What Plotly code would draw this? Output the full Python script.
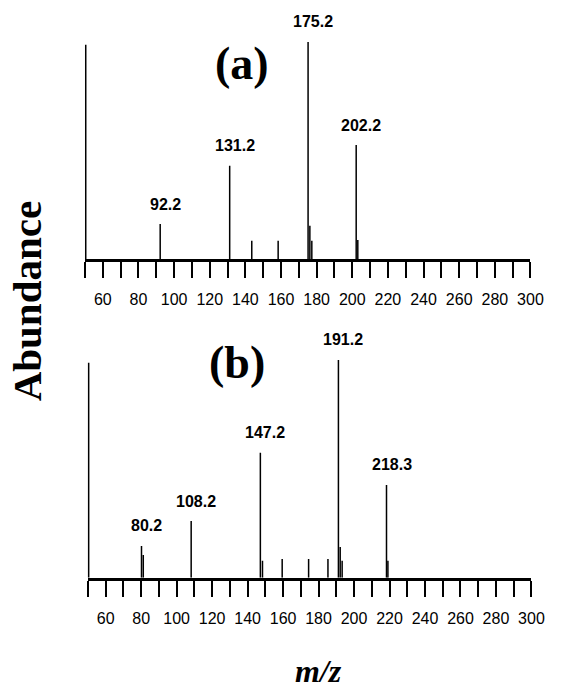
import plotly.graph_objects as go

# ---- data ----
mz_a = [92.2, 131.2, 143.6, 158.4, 175.2, 176.2, 177.3, 202.2, 203.1]
ab_a = [16.1, 43.0, 8.4, 8.4, 100.0, 15.3, 8.4, 52.5, 8.8]
lab_mz_a = [92.2, 131.2, 175.2, 202.2]
lab_txt_a = ["92.2", "131.2", "175.2", "202.2"]

mz_b = [80.2, 81.2, 108.2, 147.2, 148.4, 159.5, 174.4, 185.3, 191.2, 192.2, 193.3, 218.3, 219.1]
ab_b = [14.6, 10.4, 26.0, 57.4, 7.8, 8.6, 8.6, 8.6, 100.0, 14.1, 7.8, 42.6, 7.8]
lab_mz_b = [80.2, 108.2, 147.2, 191.2, 218.3]
lab_txt_b = ["80.2", "108.2", "147.2", "191.2", "218.3"]

tick_vals = list(range(50, 301, 10))
tick_labels = ["", "60", "", "80", "", "100", "", "120", "", "140", "", "160", "", "180", "",
               "200", "", "220", "", "240", "", "260", "", "280", "", "300"]
x_range = [50, 300]
y_range = [0, 105]
yaxis_top = 98.7

SANS = "Liberation Sans, Arial, sans-serif"
SERIF = "Liberation Serif, Times New Roman, serif"


def sticks(mz, ab):
    xs, ys = [], []
    for m, a in zip(mz, ab):
        xs += [m, m, None]
        ys += [0, a, None]
    return xs, ys


fig = go.Figure()
xa, ya = sticks(mz_a, ab_a)
xb, yb = sticks(mz_b, ab_b)
fig.add_trace(go.Scatter(x=xa, y=ya, mode="lines", line=dict(color="black", width=1.5),
                         xaxis="x", yaxis="y", showlegend=False, hoverinfo="skip"))
fig.add_trace(go.Scatter(x=xb, y=yb, mode="lines", line=dict(color="black", width=1.5),
                         xaxis="x2", yaxis="y2", showlegend=False, hoverinfo="skip"))

xcommon = dict(range=x_range, tickmode="array", tickvals=tick_vals, ticktext=tick_labels,
               ticks="outside", ticklen=16, tickwidth=1.5, tickcolor="black",
               showline=True, linewidth=3, linecolor="black", showgrid=False,
               zeroline=False, tickfont=dict(family=SANS, size=16, color="black"),
               ticklabelstandoff=8)
ycommon = dict(range=y_range, visible=False, showgrid=False, zeroline=False)

fig.update_layout(
    width=563, height=691, margin=dict(l=0, r=0, t=0, b=0),
    plot_bgcolor="white", paper_bgcolor="white",
    xaxis=dict(domain=[87 / 563, 543 / 563], anchor="y", **xcommon),
    yaxis=dict(domain=[1 - 259 / 691, 1 - 31.1 / 691], anchor="x", **ycommon),
    xaxis2=dict(domain=[90 / 563, 544 / 563], anchor="y2", **xcommon),
    yaxis2=dict(domain=[1 - 577.7 / 691, 1 - 349.1 / 691], anchor="x2", **ycommon),
)

# y-axis lines (vertical bars at left)
fig.add_shape(type="line", xref="x", yref="y", x0=x_range[0], x1=x_range[0], y0=0, y1=yaxis_top,
              line=dict(color="black", width=3))
fig.add_shape(type="line", xref="x2", yref="y2", x0=x_range[0], x1=x_range[0], y0=0, y1=yaxis_top,
              line=dict(color="black", width=3))

ann = []
for m, t in zip(lab_mz_a, lab_txt_a):
    ann.append(dict(x=m, y=ab_a[mz_a.index(m)], xref="x", yref="y", text=f"<b>{t}</b>",
                    showarrow=False, xshift=5, yshift=20, xanchor="center", yanchor="middle",
                    font=dict(family=SANS, size=16, color="black")))
for m, t in zip(lab_mz_b, lab_txt_b):
    ann.append(dict(x=m, y=ab_b[mz_b.index(m)], xref="x2", yref="y2", text=f"<b>{t}</b>",
                    showarrow=False, xshift=5, yshift=20, xanchor="center", yanchor="middle",
                    font=dict(family=SANS, size=16, color="black")))

paper_text = dict(xref="paper", yref="paper", showarrow=False, xanchor="center", yanchor="middle")
ann.append(dict(x=247.5 / 563, y=1 - 63 / 691, text="<b>(a)</b>",
                font=dict(family=SERIF, size=46, color="black"), **paper_text))
ann.append(dict(x=243 / 563, y=1 - 362.5 / 691, text="<b>(b)</b>",
                font=dict(family=SERIF, size=46, color="black"), **paper_text))
ann.append(dict(x=28 / 563, y=1 - 301 / 691, text="<b>Abundance</b>", textangle=-90,
                font=dict(family=SERIF, size=41, color="black"), **paper_text))
ann.append(dict(x=326 / 563, y=1 - 671 / 691, text="<b><i>m/z</i></b>",
                font=dict(family=SERIF, size=32, color="black"), **paper_text))
fig.update_layout(annotations=ann)

fig.write_html("out.html")
